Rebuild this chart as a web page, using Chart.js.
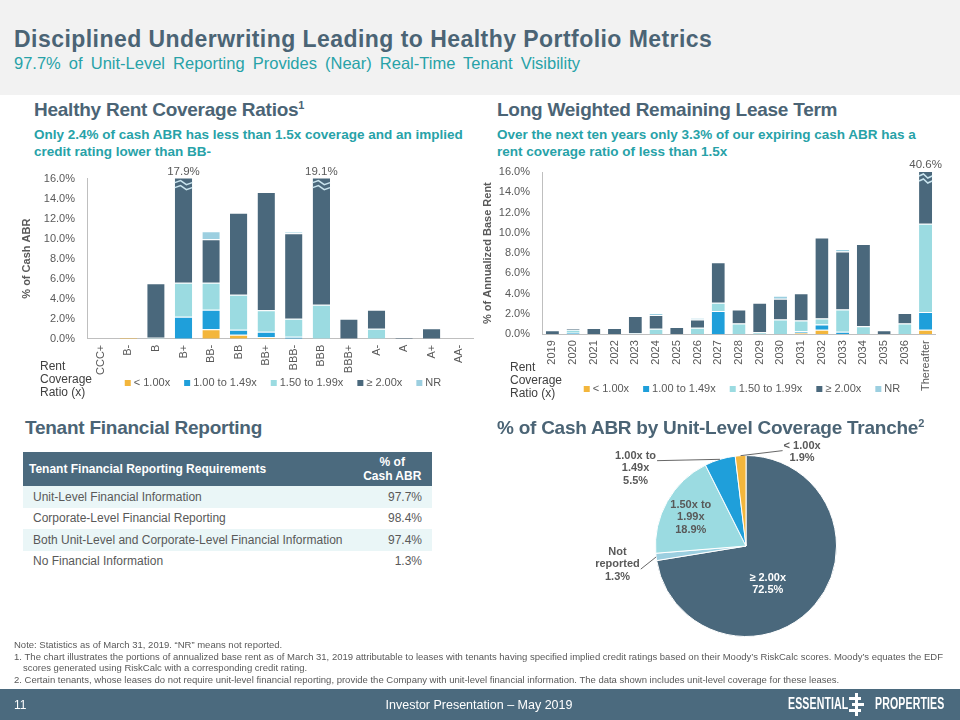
<!DOCTYPE html>
<html>
<head>
<meta charset="utf-8">
<script src="https://cdn.jsdelivr.net/npm/chart.js@4.4.1/dist/chart.umd.min.js"></script>
<style>
  body { margin: 0; width: 960px; height: 720px; position: relative; overflow: hidden; background: #fff;
         font-family: "Liberation Sans", Arial, sans-serif; }
  .abs { position: absolute; white-space: nowrap; }
  #band { left: 0; top: 0; width: 960px; height: 95px; background: #f2f2f2; }
  #title { left: 14px; top: 26px; font-size: 23px; font-weight: bold; color: #4b6475; letter-spacing: 0.45px; }
  #subtitle { left: 14px; top: 54px; font-size: 16.5px; color: #27a2a8; word-spacing: 3.5px; }
  .head { font-size: 19px; font-weight: bold; color: #4b6475; letter-spacing: -0.25px; }
  .head sup { font-size: 11px; }
  .sub { font-size: 13.5px; font-weight: bold; color: #27a2a8; line-height: 17px; white-space: normal; }
  .rcr { font-size: 12px; color: #404040; line-height: 13px; }
  table { border-collapse: collapse; font-size: 12px; color: #595959; }
  td { padding: 0 10px 0 10px; height: 21.5px; white-space: nowrap; }
  th { background: #4b6a7e; color: #fff; font-weight: bold; height: 34px; padding: 0 6px; }
  tr.alt td { background: #eaf6f7; }
  #notes { left: 14px; top: 639px; font-size: 9.5px; color: #595959; line-height: 11.5px; width: 935px; white-space: normal; }
  #footer { left: 0; top: 689px; width: 960px; height: 31px; background: #4b6a7e; color: #fff; }
  .logo { font-size: 16px; font-weight: bold; transform: scaleX(0.66); transform-origin: left top; letter-spacing: 0.2px; }
</style>
</head>
<body>
<div id="band" class="abs"></div>
<div id="title" class="abs">Disciplined Underwriting Leading to Healthy Portfolio Metrics</div>
<div id="subtitle" class="abs">97.7% of Unit-Level Reporting Provides (Near) Real-Time Tenant Visibility</div>

<div class="abs head" style="left:34px; top:99px;">Healthy Rent Coverage Ratios<sup>1</sup></div>
<div class="abs sub" style="left:34px; top:126px; width:440px;">Only 2.4% of cash ABR has less than 1.5x coverage and an implied credit rating lower than BB-</div>
<div class="abs head" style="left:497px; top:99px;">Long Weighted Remaining Lease Term</div>
<div class="abs sub" style="left:497px; top:126px; width:425px;">Over the next ten years only 3.3% of our expiring cash ABR has a rent coverage ratio of less than 1.5x</div>

<div class="abs" style="left:15px; top:160px; width:465px; height:240px;"><canvas id="ratingChart"></canvas></div>
<div class="abs" style="left:478px; top:150px; width:467px; height:256px;"><canvas id="termChart"></canvas></div>
<div class="abs rcr" style="left:40px; top:360px;">Rent<br>Coverage<br>Ratio (x)</div>
<div class="abs rcr" style="left:510px; top:361px;">Rent<br>Coverage<br>Ratio (x)</div>

<div class="abs head" style="left:25px; top:417px;">Tenant Financial Reporting</div>
<div class="abs head" style="left:497px; top:417px;">% of Cash ABR by Unit-Level Coverage Tranche<sup>2</sup></div>

<table class="abs" style="left:23px; top:452px; width:409px;">
  <tr><th style="text-align:left;">Tenant Financial Reporting Requirements</th><th style="text-align:center; width:70px;">% of<br>Cash ABR</th></tr>
  <tr class="alt"><td>Unit-Level Financial Information</td><td style="text-align:right;">97.7%</td></tr>
  <tr><td>Corporate-Level Financial Reporting</td><td style="text-align:right;">98.4%</td></tr>
  <tr class="alt"><td>Both Unit-Level and Corporate-Level Financial Information</td><td style="text-align:right;">97.4%</td></tr>
  <tr><td>No Financial Information</td><td style="text-align:right;">1.3%</td></tr>
</table>

<div class="abs" style="left:560px; top:435px; width:380px; height:210px;"><canvas id="trancheChart"></canvas></div>

<div id="notes" class="abs">
  <div>Note: Statistics as of March 31, 2019. “NR” means not reported.</div>
  <div style="padding-left:9px; text-indent:-9px;">1.&nbsp;The chart illustrates the portions of annualized base rent as of March 31, 2019 attributable to leases with tenants having specified implied credit ratings based on their Moody’s RiskCalc scores. Moody’s equates the EDF scores generated using RiskCalc with a corresponding credit rating.</div>
  <div>2.&nbsp;Certain tenants, whose leases do not require unit-level financial reporting, provide the Company with unit-level financial information. The data shown includes unit-level coverage for these leases.</div>
</div>

<div id="footer" class="abs">
  <div class="abs" style="left:14px; top:9px; font-size:12px;">11</div>
  <div class="abs" style="left:0; width:958px; top:9px; font-size:12.5px; text-align:center;">Investor Presentation – May 2019</div>
  <div class="abs logo" style="left:788px; top:6px;">ESSENTIAL</div>
  <div class="abs" style="left:855px; top:4px; width:3px; height:23px; background:#fff;"></div>
  <div class="abs" style="left:849px; top:8px; width:12px; height:3px; background:#fff;"></div>
  <div class="abs" style="left:852px; top:14px; width:12px; height:3px; background:#fff;"></div>
  <div class="abs" style="left:849px; top:20px; width:12px; height:3px; background:#fff;"></div>
  <div class="abs logo" style="left:875px; top:6px;">PROPERTIES</div>
</div>

<script>
// credit rating chart
var ratingLabels = ['CCC+', 'B-', 'B', 'B+', 'BB-', 'BB', 'BB+', 'BBB-', 'BBB', 'BBB+', 'A-', 'A', 'A+', 'AA-'];
var ratingLt100 = [0, 0.15, 0, 0, 0.95, 0.4, 0.15, 0, 0, 0, 0, 0, 0, 0];
var rating100to149 = [0, 0, 0, 2.2, 1.95, 0.5, 0.55, 0.2, 0, 0, 0, 0, 0, 0];
var rating150to199 = [0, 0, 0.1, 3.4, 2.7, 3.5, 2.15, 1.8, 3.4, 0, 1.0, 0, 0, 0];
var ratingGe200 = [0, 0, 5.45, 12.3, 4.35, 8.2, 11.8, 8.55, 15.7, 2.0, 1.9, 0.15, 1.05, 0];
var ratingNR = [0, 0, 0, 0, 0.8, 0, 0, 0.15, 0, 0, 0, 0, 0, 0];

// lease expiration chart
var yearLabels = ['2019', '2020', '2021', '2022', '2023', '2024', '2025', '2026', '2027', '2028', '2029', '2030', '2031', '2032', '2033', '2034', '2035', '2036', 'Thereafter'];
var yearLt100 = [0, 0, 0, 0, 0, 0, 0, 0, 0, 0, 0, 0, 0.15, 0.45, 0, 0, 0, 0, 0.45];
var year100to149 = [0, 0.15, 0, 0, 0, 0, 0, 0, 2.3, 0, 0, 0, 0.15, 0.5, 0.25, 0, 0, 0, 1.75];
var year150to199 = [0, 0.3, 0, 0, 0.1, 0.55, 0, 0.65, 0.8, 1.05, 0.2, 1.45, 1.05, 0.6, 2.2, 0.8, 0, 1.05, 8.7];
var yearGe200 = [0.4, 0.15, 0.62, 0.62, 1.7, 1.35, 0.72, 0.8, 4.0, 1.4, 2.9, 2.05, 2.7, 8.0, 5.7, 8.1, 0.4, 1.05, 29.7];
var yearNR = [0, 0, 0, 0, 0, 0.2, 0, 0.15, 0, 0, 0, 0.3, 0, 0, 0.25, 0, 0, 0, 0];

// pie
var trancheLabels = ['≥ 2.00x', 'Not reported', '1.50x to 1.99x', '1.00x to 1.49x', '< 1.00x'];
var trancheValues = [72.5, 1.3, 18.9, 5.5, 1.9];

var seriesNames = ['< 1.00x', '1.00 to 1.49x', '1.50 to 1.99x', '≥ 2.00x', 'NR'];
var seriesColors = ['#f3b63c', '#1f9fda', '#9bdbe1', '#4a687c', '#9ccfe0'];
var gray = '#595959';
var font = '"Liberation Sans", Arial';

// bars taller than the axis get a break mark and their total on top
var breakPlugin = {
    id: 'breaks',
    afterDatasetsDraw: function(chart) {
        var ctx = chart.ctx;
        var y = chart.scales.y;
        var top = chart.chartArea.top;
        var n = chart.data.labels.length;
        for (var i = 0; i < n; i++) {
            var total = 0;
            chart.data.datasets.forEach(function(ds) { total += ds.data[i]; });
            if (total <= y.max) continue;
            var bar = chart.getDatasetMeta(3).data[i];
            var x0 = bar.x - bar.width / 2, x1 = bar.x + bar.width / 2;
            ctx.save();
            ctx.strokeStyle = '#c9e4ee';
            ctx.lineWidth = 1.5;
            [4, 9].forEach(function(off) {
                ctx.beginPath();
                ctx.moveTo(x0, top + off);
                ctx.lineTo(bar.x - bar.width / 6, top + off - 2);
                ctx.lineTo(bar.x + bar.width / 6, top + off + 2);
                ctx.lineTo(x1, top + off);
                ctx.stroke();
            });
            ctx.fillStyle = gray;
            ctx.font = '11.5px ' + font;
            ctx.textAlign = 'center';
            ctx.textBaseline = 'bottom';
            ctx.fillText(total.toFixed(1) + '%', bar.x, top - 1);
            ctx.restore();
        }
    }
};

// small square legend under the category labels, centred on the plot
var legendPlugin = {
    id: 'squareLegend',
    afterDraw: function(chart) {
        var ctx = chart.ctx;
        var area = chart.chartArea;
        ctx.save();
        ctx.font = '11px ' + font;
        ctx.textBaseline = 'middle';
        var items = chart.data.datasets.map(function(ds) {
            return {text: ds.label, color: ds.backgroundColor, w: ctx.measureText(ds.label).width};
        });
        var box = 6, gap = 3, space = 14;
        var total = 0;
        items.forEach(function(it, k) { total += box + gap + it.w + (k ? space : 0); });
        var x = (area.left + area.right) / 2 - total / 2 + 3;
        var y = chart.height - 17;
        items.forEach(function(it) {
            ctx.fillStyle = it.color;
            ctx.fillRect(x, y - box / 2, box, box);
            ctx.fillStyle = gray;
            ctx.fillText(it.text, x + box + gap, y);
            x += box + gap + it.w + space;
        });
        ctx.restore();
    }
};

function stackedBars(id, labels, series, yTitle, yWidth, padTop, padRight, padBottom, titlePad) {
    var datasets = series.map(function(data, k) {
        return {
            label: seriesNames[k],
            data: data,
            backgroundColor: seriesColors[k],
            borderColor: '#ffffff',
            borderWidth: {top: 1, bottom: 0, left: 0, right: 0},
            borderSkipped: 'start',
            barPercentage: 0.63,
            categoryPercentage: 1,
            clip: 0
        };
    });
    return new Chart(document.getElementById(id), {
        type: 'bar',
        data: {labels: labels, datasets: datasets},
        options: {
            responsive: true,
            maintainAspectRatio: false,
            animation: false,
            layout: {padding: {top: padTop, right: padRight, left: 0, bottom: padBottom}},
            plugins: {
                tooltip: {enabled: false},
                legend: {display: false}
            },
            scales: {
                x: {
                    stacked: true,
                    grid: {display: false, drawTicks: false},
                    border: {display: true, color: '#bfbfbf'},
                    ticks: {minRotation: 90, maxRotation: 90, padding: 6, color: gray,
                            font: {size: 11, family: font}}
                },
                y: {
                    stacked: true,
                    min: 0,
                    max: 16,
                    grid: {display: false, drawTicks: false},
                    border: {display: true, color: '#bfbfbf'},
                    ticks: {stepSize: 2, padding: 12, color: gray,
                            font: {size: 11, family: font},
                            callback: function(v) { return v.toFixed(1) + '%'; }},
                    title: {display: true, text: yTitle, color: gray, padding: {top: titlePad, bottom: 0},
                            font: {size: 11, weight: 'bold', family: font}},
                    afterFit: function(s) { s.width = yWidth; }
                }
            }
        },
        plugins: [breakPlugin, legendPlugin]
    });
}

stackedBars('ratingChart', ratingLabels,
    [ratingLt100, rating100to149, rating150to199, ratingGe200, ratingNR],
    '% of Cash ABR', 72, 15, 7, 19, 5);
stackedBars('termChart', yearLabels,
    [yearLt100, year100to149, year150to199, yearGe200, yearNR],
    '% of Annualized Base Rent', 64, 22, 8, 9, 3);

// pie labels: anchor given in pie radii from the centre, optional leader line
var pieLabelSpots = [
    {at: [0.24, 0.42], color: '#ffffff'},
    {at: [-1.42, 0.2], color: gray, leader: {line: 1, side: 'right'}},
    {at: [-0.61, -0.32], color: gray},
    {at: [-1.22, -0.86], color: gray, leader: {line: 0, side: 'right'}},
    {at: [0.62, -1.04], color: gray, leader: {line: 0, side: 'left'}}
];
var pieLines = [
    ['≥ 2.00x', '72.5%'],
    ['Not', 'reported', '1.3%'],
    ['1.50x to', '1.99x', '18.9%'],
    ['1.00x to', '1.49x', '5.5%'],
    ['< 1.00x', '1.9%']
];

var pieLabelPlugin = {
    id: 'pieLabels',
    afterDatasetsDraw: function(chart) {
        var ctx = chart.ctx;
        var arcs = chart.getDatasetMeta(0).data;
        ctx.save();
        ctx.font = 'bold 11px ' + font;
        ctx.textAlign = 'center';
        ctx.textBaseline = 'middle';
        arcs.forEach(function(arc, i) {
            var spot = pieLabelSpots[i];
            var lines = pieLines[i];
            var r = arc.outerRadius;
            var lh = 12.5;
            var cx = arc.x + spot.at[0] * r;
            var cy = arc.y + spot.at[1] * r - (lines.length - 1) * lh / 2;
            if (spot.leader) {
                var mid = (arc.startAngle + arc.endAngle) / 2;
                var ex = arc.x + Math.cos(mid) * r, ey = arc.y + Math.sin(mid) * r;
                var w = ctx.measureText(lines[spot.leader.line]).width;
                var lx = spot.leader.side === 'right' ? cx + w / 2 + 1 : cx - w / 2 - 1;
                var ly = cy + spot.leader.line * lh + 5;
                ctx.strokeStyle = '#404040';
                ctx.lineWidth = 0.8;
                ctx.beginPath();
                ctx.moveTo(ex, ey);
                ctx.lineTo(lx, ly);
                ctx.stroke();
            }
            ctx.fillStyle = spot.color;
            lines.forEach(function(t, k) { ctx.fillText(t, cx, cy + k * lh); });
        });
        ctx.restore();
    }
};

new Chart(document.getElementById('trancheChart'), {
    type: 'pie',
    data: {
        labels: trancheLabels,
        datasets: [{
            data: trancheValues,
            backgroundColor: [seriesColors[3], seriesColors[4], seriesColors[2], seriesColors[1], seriesColors[0]],
            borderColor: '#ffffff',
            borderWidth: 1
        }]
    },
    options: {
        responsive: true,
        maintainAspectRatio: false,
        animation: false,
        layout: {padding: {top: 20, bottom: 8, left: 0, right: 8}},
        plugins: {legend: {display: false}, tooltip: {enabled: false}}
    },
    plugins: [pieLabelPlugin]
});
</script>
</body>
</html>
